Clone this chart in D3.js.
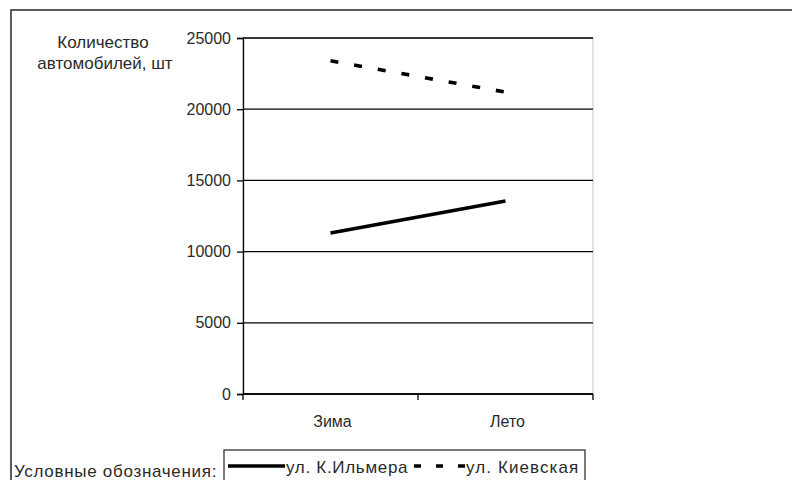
<!DOCTYPE html>
<html>
<head>
<meta charset="utf-8">
<script src="https://cdn.jsdelivr.net/npm/d3@7"></script>
<style>
  html, body { margin: 0; padding: 0; background: #fff; }
  svg { display: block; font-family: "Liberation Sans", Arial, sans-serif; }
</style>
</head>
<body>
<svg id="chart" width="792" height="480"></svg>
<script>
// Seasons on the x axis
const categories = ["Зима", "Лето"];
// Number of cars per season, by street
const seriesNames = ["ул. К.Ильмера", "ул. Киевская"];
const ilmera = [11300, 13550];
const kievskaya = [23400, 21200];
// Value axis ticks
const yTicks = [0, 5000, 10000, 15000, 20000, 25000];
const yTitle = ["Количество", "автомобилей, шт"];
const legendTitle = "Условные обозначения:";

const svg = d3.select("#chart");
const ink = "#000";
const textColor = "#2a2a2a";

// Outer frame
svg.append("rect")
  .attr("x", 11).attr("y", 10).attr("width", 820).attr("height", 520)
  .attr("fill", "none").attr("stroke", "#333").attr("stroke-width", 1.6);

const plot = { left: 243, right: 593, top: 38, bottom: 394 };

const x = d3.scaleBand().domain(categories).range([plot.left, plot.right]);
const y = d3.scaleLinear().domain([0, 25000]).range([plot.bottom, plot.top]);

// Plot border and horizontal gridlines
svg.append("rect")
  .attr("x", plot.left).attr("y", plot.top)
  .attr("width", plot.right - plot.left).attr("height", plot.bottom - plot.top)
  .attr("fill", "none").attr("stroke", "#c8c8c8").attr("stroke-width", 1);

svg.append("g").selectAll("line").data(yTicks).join("line")
  .attr("x1", plot.left).attr("x2", plot.right)
  .attr("y1", d => y(d)).attr("y2", d => y(d))
  .attr("stroke", ink).attr("stroke-width", 1.3);

// Y axis
const yAxis = svg.append("g")
  .attr("transform", `translate(${plot.left},0)`)
  .call(d3.axisLeft(y).tickValues(yTicks).tickSize(6).tickPadding(6).tickFormat(d3.format("d")));
yAxis.select(".domain").attr("stroke", ink).attr("stroke-width", 1.3);
yAxis.selectAll(".tick line").attr("stroke", ink).attr("stroke-width", 1.3);
yAxis.selectAll(".tick text")
  .attr("fill", textColor).style("font-size", "16px")
  .style("font-family", "'Liberation Sans', Arial, sans-serif");

// X axis: tick marks between categories, labels centred under each
const xEdges = [plot.left, ...categories.map(c => x(c) + x.bandwidth())];
svg.append("g").selectAll("line").data(xEdges).join("line")
  .attr("x1", d => d).attr("x2", d => d)
  .attr("y1", plot.bottom).attr("y2", plot.bottom + 6)
  .attr("stroke", ink).attr("stroke-width", 1.3);
svg.append("line")
  .attr("x1", plot.left).attr("x2", plot.right)
  .attr("y1", plot.bottom).attr("y2", plot.bottom)
  .attr("stroke", ink).attr("stroke-width", 1.3);
svg.append("g").selectAll("text").data(categories).join("text")
  .attr("x", d => x(d) + x.bandwidth() / 2 + 2)
  .attr("y", 427)
  .attr("text-anchor", "middle")
  .attr("fill", textColor).style("font-size", "16px")
  .text(d => d);

// Y axis title
svg.append("g").selectAll("text").data(yTitle).join("text")
  .attr("x", (d, i) => i === 0 ? 103 : 105)
  .attr("y", (d, i) => 48 + i * 21)
  .attr("text-anchor", "middle")
  .attr("fill", textColor).style("font-size", "17px")
  .text(d => d);

// Series lines
const line = d3.line()
  .x((d, i) => x(categories[i]) + x.bandwidth() / 2)
  .y(d => y(d));

svg.append("path").datum(ilmera)
  .attr("d", line).attr("fill", "none")
  .attr("stroke", ink).attr("stroke-width", 3.6);

svg.append("path").datum(kievskaya)
  .attr("d", line).attr("fill", "none")
  .attr("stroke", ink).attr("stroke-width", 3.6)
  .attr("stroke-dasharray", "8,16");

// Legend
svg.append("text")
  .attr("x", 14).attr("y", 477)
  .attr("fill", textColor).style("font-size", "17px")
  .style("letter-spacing", "0.7px")
  .text(legendTitle);

const lg = svg.append("g");
lg.append("rect")
  .attr("x", 224).attr("y", 450).attr("width", 361).attr("height", 40)
  .attr("fill", "none").attr("stroke", "#333").attr("stroke-width", 1.3);

lg.append("line")
  .attr("x1", 228).attr("x2", 285).attr("y1", 466).attr("y2", 466)
  .attr("stroke", ink).attr("stroke-width", 3.6);
lg.append("text")
  .attr("x", 286).attr("y", 473)
  .attr("fill", textColor).style("font-size", "17px")
  .style("letter-spacing", "0.7px")
  .text(seriesNames[0]);

lg.append("line")
  .attr("x1", 414).attr("x2", 466).attr("y1", 466).attr("y2", 466)
  .attr("stroke", ink).attr("stroke-width", 3.6)
  .attr("stroke-dasharray", "7,15");
lg.append("text")
  .attr("x", 466).attr("y", 473)
  .attr("fill", textColor).style("font-size", "17px")
  .style("letter-spacing", "1.1px")
  .text(seriesNames[1]);
</script>
</body>
</html>
